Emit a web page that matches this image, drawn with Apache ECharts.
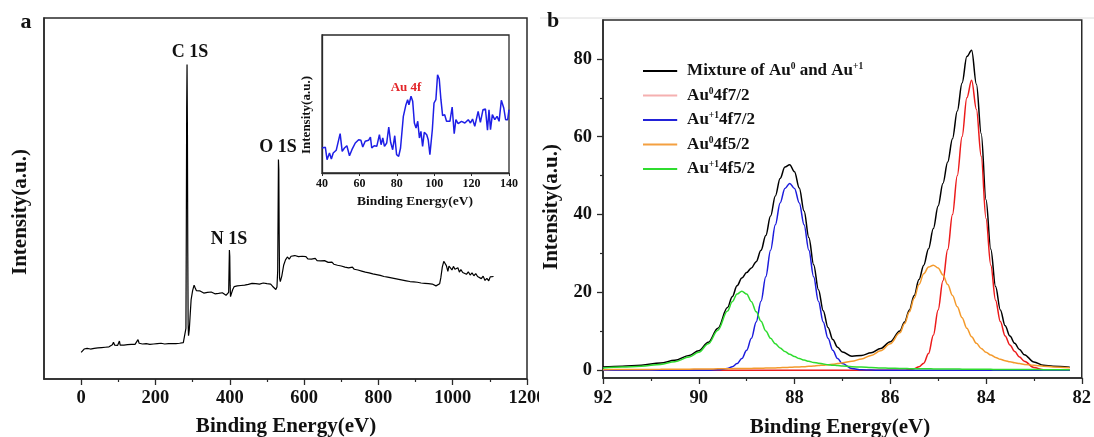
<!DOCTYPE html>
<html>
<head>
<meta charset="utf-8">
<script src="https://cdn.jsdelivr.net/npm/echarts@6/dist/echarts.min.js"></script>
<style>
  html, body { margin: 0; padding: 0; background: #ffffff; }
  #chart { width: 1094px; height: 437px; }
</style>
</head>
<body>
<div id="chart"></div>
<script>
// ---- (a) XPS survey spectrum: [binding energy (eV), intensity (a.u.)] ----
const surveySpectrum = [
  [0,7.4],[4,7.9],[8,8.3],[12,8.1],[16,8.5],[20,8.4],[25,8.3],[30,8.6],[35,8.5],[40,8.7],
  [45,8.6],[50,8.8],[55,8.7],[60,8.9],[65,8.8],[70,9.0],[75,8.9],[80,9.1],[84,9.5],[87,10.2],
  [90,9.4],[94,9.1],[98,9.3],[101,9.6],[103,10.5],[105,9.4],[110,9.2],[115,9.4],[120,9.3],[125,9.5],
  [130,9.4],[135,9.6],[140,9.5],[145,9.6],[150,9.8],[153,10.9],[156,9.9],[160,9.6],[165,9.7],[170,9.6],
  [175,9.8],[180,9.7],[185,9.6],[190,9.8],[195,9.7],[200,9.9],[205,9.8],[210,9.7],[215,9.9],[220,9.8],
  [225,9.7],[230,9.9],[235,9.8],[240,9.9],[245,9.8],[250,9.9],[255,9.8],[260,10.0],[265,9.9],[270,10.0],
  [275,10.1],[280,10.6],[282,14.0],[283,40.0],[284,75.0],[285,87.1],[286,70.0],[287,35.0],[288,15.0],[289,12.0],
  [291,13.6],[293,17.0],[296,22.0],[300,24.5],[304,26.0],[307,25.2],[310,24.5],[315,24.0],[320,24.4],[325,24.1],
  [330,23.8],[335,24.2],[340,24.0],[345,23.7],[350,24.1],[355,23.9],[360,23.6],[365,24.0],[370,23.7],[375,23.5],
  [380,23.9],[385,23.4],[390,23.2],[395,23.0],[397,24.0],[398,30.0],[399,35.7],[400,34.0],[401,26.0],[402,22.8],
  [404,23.5],[408,24.8],[412,25.6],[416,25.2],[420,25.8],[425,25.4],[430,25.9],[435,25.5],[440,26.0],[445,25.7],
  [450,26.2],[455,25.8],[460,26.5],[465,26.0],[470,26.4],[475,25.9],[480,26.3],[485,26.1],[490,26.6],[495,26.2],
  [500,26.4],[505,26.0],[510,26.3],[515,25.7],[520,25.2],[524,24.8],[527,25.5],[529,30.0],[530,45.0],[531,60.8],
  [532,58.0],[533,40.0],[534,28.0],[536,27.0],[540,28.5],[545,31.5],[550,33.0],[555,33.8],[560,33.2],[565,34.0],
  [570,33.6],[575,34.2],[580,33.7],[585,33.9],[590,33.4],[595,34.0],[600,33.6],[605,33.9],[610,33.3],[615,33.7],
  [620,33.2],[625,33.0],[630,33.4],[635,32.8],[640,33.1],[645,32.7],[650,32.3],[655,32.8],[660,33.2],[665,32.3],
  [670,32.0],[675,32.4],[680,31.8],[685,32.1],[690,31.5],[695,31.9],[700,31.3],[705,31.6],[710,31.0],[715,31.4],
  [720,30.8],[725,30.6],[730,31.0],[735,30.4],[740,30.7],[745,30.2],[750,30.5],[755,29.9],[760,30.2],[765,29.6],
  [770,29.9],[775,29.4],[780,29.7],[785,29.1],[790,29.4],[795,28.9],[800,29.2],[805,28.7],[810,29.0],[815,28.4],
  [820,28.7],[825,28.2],[830,28.5],[835,28.0],[840,28.3],[845,27.8],[850,28.1],[855,27.6],[860,27.9],[865,27.4],
  [870,27.7],[875,27.2],[880,27.5],[885,27.0],[890,27.3],[895,26.9],[900,27.2],[905,26.8],[910,27.0],[915,26.6],
  [920,26.9],[925,26.5],[930,26.8],[935,26.4],[940,26.7],[945,26.3],[950,26.1],[955,25.8],[960,26.0],[965,26.4],
  [968,28.0],[972,31.0],[976,32.6],[980,33.0],[983,31.4],[987,29.8],[990,31.3],[994,30.8],[998,30.2],[1002,31.2],
  [1006,30.4],[1010,29.9],[1014,30.8],[1018,29.6],[1022,30.3],[1027,29.5],[1032,29.9],[1037,29.0],[1042,29.7],[1047,28.8],
  [1052,29.4],[1057,28.6],[1062,29.2],[1067,28.4],[1072,28.9],[1077,27.8],[1082,28.5],[1087,27.3],[1092,27.9],[1097,27.2],
  [1101,28.3],[1105,27.8],[1110,28.4]
];

// ---- (a) inset: Au 4f region of the survey ----
const insetSpectrum = [
  [40,25.0],[41.8,25.7],[42.7,13.3],[44,20.0],[45,14.0],[46,20.0],[47.6,22.7],[48.5,21.7],[49.7,39.3],[50.8,21.7],
  [52,25.0],[53.3,27.3],[54.7,17.3],[56,23.3],[56.9,21.7],[57.8,30.0],[59.6,33.3],[60.8,32.7],[61.8,26.0],[63.1,31.7],
  [64.9,32.7],[65.9,36.0],[66.6,25.0],[67.9,27.3],[69.3,26.7],[70.7,38.3],[71.6,28.3],[72.5,35.0],[73.4,26.7],[74.6,30.0],
  [75.7,46.0],[76.7,30.7],[77.8,23.3],[78.9,37.3],[79.9,18.3],[81,16.7],[82,25.0],[83.5,56.7],[84.9,68.3],[85.8,73.3],
  [86.5,68.3],[87.6,76.7],[88.5,71.7],[89.4,50.0],[90.3,45.0],[91.2,51.7],[92.1,35.0],[92.9,41.7],[93.8,26.7],[94.7,40.7],
  [96,38.3],[96.8,33.3],[97.7,18.3],[99,43.3],[99.9,70.0],[100.9,73.3],[101.8,98.3],[102.7,94.0],[103.6,73.3],[104.5,57.3],
  [105.6,58.3],[106.6,51.7],[108.4,51.7],[109.6,66.0],[110.7,39.3],[111.6,53.3],[112.8,49.3],[114.6,51.7],[116.4,50.0],[118.2,53.3],
  [119.4,50.0],[120.5,54.0],[121.7,46.7],[123.5,61.7],[124.7,50.7],[126.1,63.3],[127.4,64.0],[128.5,42.7],[129.3,63.3],[130.1,43.3],
  [131.1,58.3],[132.4,53.3],[133.6,56.7],[134.7,51.7],[135.9,72.7],[137.2,65.0],[138.2,53.3],[139.3,53.3],[140,63.3]
];

// ---- (b) Au 4f high-resolution fit ----
const energyB = [
  92.0, 91.6, 91.2, 90.8, 90.5, 90.2, 90.0, 89.8, 89.6, 89.4,
  89.3, 89.2, 89.1, 89.0, 88.9, 88.8, 88.7, 88.6, 88.5, 88.4,
  88.3, 88.2, 88.1, 88.0, 87.9, 87.8, 87.7, 87.6, 87.5, 87.4,
  87.3, 87.2, 87.1, 87.0, 86.8, 86.6, 86.4, 86.2, 86.0, 85.8,
  85.7, 85.6, 85.5, 85.4, 85.3, 85.2, 85.1, 85.0, 84.9, 84.8,
  84.7, 84.6, 84.5, 84.4, 84.3, 84.2, 84.1, 84.0, 83.9, 83.8,
  83.7, 83.6, 83.5, 83.4, 83.3, 83.2, 83.0, 82.8, 82.6, 82.25
];
const mixture = [
  0.85, 1.05, 1.3, 1.85, 2.55, 3.8, 5.0, 7.2, 10.8, 16.1,
  18.9, 21.7, 23.7, 25.1, 26.3, 27.9, 30.8, 34.6, 39.6, 44.8,
  49.3, 52.2, 52.8, 51.0, 46.8, 40.9, 34.1, 27.1, 20.7, 15.3,
  11.0, 7.9, 5.9, 4.7, 3.6, 3.8, 4.5, 5.6, 7.3, 10.1,
  12.4, 15.5, 19.2, 23.3, 27.0, 31.2, 36.4, 42.2, 48.0, 53.5,
  59.5, 66.6, 73.8, 80.6, 82.2, 73.5, 60.8, 43.8, 31.1, 21.5,
  15.5, 11.4, 8.8, 6.9, 5.3, 4.0, 2.1, 1.25, 1.0, 0.77
];
const au0f72 = [
  0, 0, 0, 0, 0, 0, 0, 0, 0, 0,
  0, 0, 0, 0, 0, 0, 0, 0, 0, 0,
  0, 0, 0, 0, 0, 0, 0, 0, 0, 0,
  0, 0, 0, 0, 0, 0, 0, 0, 0, 0,
  0, 0.1, 0.4, 0.9, 1.8, 4.3, 9.0, 15.5, 23.0, 31.0,
  40.0, 50.0, 60.0, 70.0, 74.5, 67.0, 55.0, 39.0, 27.0, 18.0,
  12.5, 8.8, 6.5, 4.8, 3.4, 2.3, 0.7, 0.1, 0, 0
];
const au1f72 = [
  0, 0, 0, 0, 0, 0, 0, 0, 0.1, 0.45,
  0.9, 1.7, 3.0, 5.1, 8.2, 12.4, 17.7, 24.0, 30.8, 37.4,
  43.0, 46.7, 48.0, 46.7, 43.0, 37.4, 30.8, 24.0, 17.7, 12.4,
  8.2, 5.1, 3.0, 1.7, 0.45, 0.1, 0.03, 0, 0, 0,
  0, 0, 0, 0, 0, 0, 0, 0, 0, 0,
  0, 0, 0, 0, 0, 0, 0, 0, 0, 0,
  0, 0, 0, 0, 0, 0, 0, 0, 0, 0
];
const au0f52 = [
  0.15, 0.18, 0.2, 0.22, 0.25, 0.28, 0.3, 0.3, 0.35, 0.4,
  0.4, 0.42, 0.43, 0.45, 0.47, 0.5, 0.52, 0.55, 0.58, 0.6,
  0.65, 0.7, 0.75, 0.8, 0.85, 0.9, 1.0, 1.1, 1.2, 1.3,
  1.4, 1.55, 1.7, 1.9, 2.3, 2.9, 3.8, 5.0, 6.8, 9.6,
  12.0, 15.0, 18.5, 22.0, 24.8, 26.5, 27.0, 26.3, 24.5, 22.0,
  19.2, 16.3, 13.5, 10.8, 8.6, 6.9, 5.6, 4.6, 3.9, 3.3,
  2.8, 2.45, 2.15, 1.9, 1.7, 1.5, 1.25, 1.0, 0.85, 0.65
];
const au1f52 = [
  0.6, 0.8, 1.0, 1.5, 2.2, 3.4, 4.6, 6.8, 10.3, 15.2,
  17.6, 19.6, 20.3, 19.6, 17.6, 15.0, 12.6, 10.1, 8.2, 6.8,
  5.7, 4.8, 4.1, 3.5, 3.0, 2.6, 2.3, 2.0, 1.8, 1.6,
  1.4, 1.3, 1.2, 1.1, 0.9, 0.8, 0.7, 0.6, 0.5, 0.45,
  0.42, 0.4, 0.4, 0.38, 0.36, 0.35, 0.34, 0.33, 0.32, 0.31,
  0.3, 0.29, 0.28, 0.27, 0.26, 0.25, 0.24, 0.23, 0.22, 0.21,
  0.2, 0.2, 0.19, 0.18, 0.18, 0.17, 0.16, 0.15, 0.14, 0.12
];

// Tick values
const surveyMajorTicks = [0, 200, 400, 600, 800, 1000, 1200];
const surveyMinorTicks = [100, 300, 500, 700, 900, 1100];
const fitMajorTicks = [0, 20, 40, 60, 80];
const fitMinorTicks = [10, 30, 50, 70];

// Series definitions for panel (b)
const fitSeries = [
  { name: 'Mixture of Au0 and Au+1', values: mixture, color: '#000000', legendColor: '#000000',
    label: '{n|Mixture of Au}{s|0}{n| and Au}{s|+1}' },
  { name: 'Au0 4f7/2', values: au0f72, color: '#ec1b1b', legendColor: '#f5b0b0',
    label: '{n|Au}{s|0}{n|4f7/2}' },
  { name: 'Au+1 4f7/2', values: au1f72, color: '#1c1cdc', legendColor: '#2222d8',
    label: '{n|Au}{s|+1}{n|4f7/2}' },
  { name: 'Au0 4f5/2', values: au0f52, color: '#f49a2c', legendColor: '#f4a040',
    label: '{n|Au}{s|0}{n|4f5/2}' },
  { name: 'Au+1 4f5/2', values: au1f52, color: '#2fdc2f', legendColor: '#2fdc2f',
    label: '{n|Au}{s|+1}{n|4f5/2}' }
];

const FONT = '"Liberation Serif", "Times New Roman", serif';
const INK = '#111111';
const FRAME = '#2a2a2a';

const chart = echarts.init(document.getElementById('chart'), null, { renderer: 'canvas' });

const labelStyle = (size) => ({ fontFamily: FONT, fontWeight: 'bold', fontSize: size, color: INK });
const plainNumber = v => String(v);

function boldText(text, x, y, size, opts) {
  return Object.assign({
    type: 'text', x: x, y: y, silent: true, z: 50,
    style: { text: text, fontFamily: FONT, fontWeight: 'bold', fontSize: size,
             fill: INK, align: 'center', verticalAlign: 'middle' }
  }, opts || {});
}

const option = {
  backgroundColor: '#ffffff',
  animation: false,
  grid: [
    { left: 44, top: 18, width: 483, height: 361, show: true, borderColor: FRAME, borderWidth: 1.5 },
    { left: 322, top: 35, width: 187, height: 138, show: true, borderColor: FRAME, borderWidth: 1.3 },
    { left: 603, top: 20, width: 479, height: 358, show: true, borderColor: FRAME, borderWidth: 1.5 }
  ],
  xAxis: [
    { // survey energy axis
      gridIndex: 0, type: 'value', min: -100, max: 1200, position: 'bottom',
      axisLine: { show: true, onZero: false, lineStyle: { color: FRAME, width: 1.5 } },
      axisTick: { show: true, inside: false, length: 6, customValues: surveyMajorTicks, lineStyle: { color: FRAME, width: 1.3 } },
      axisLabel: Object.assign({ show: true, margin: 10, customValues: surveyMajorTicks, formatter: plainNumber }, labelStyle(18.5)),
      splitLine: { show: false }
    },
    { // survey minor ticks
      gridIndex: 0, type: 'value', min: -100, max: 1200, position: 'bottom', offset: 0,
      axisLine: { show: false },
      axisTick: { show: true, inside: false, length: 3, customValues: surveyMinorTicks, lineStyle: { color: FRAME, width: 1.2 } },
      axisLabel: { show: false }, splitLine: { show: false }
    },
    { // inset energy axis
      gridIndex: 1, type: 'value', min: 40, max: 140, interval: 20, position: 'bottom',
      axisLine: { show: true, onZero: false, lineStyle: { color: FRAME, width: 1.3 } },
      axisTick: { show: true, inside: false, length: 3, lineStyle: { color: FRAME, width: 1 } },
      axisLabel: Object.assign({ show: true, margin: 5, formatter: plainNumber }, labelStyle(12)),
      splitLine: { show: false }
    },
    { // high-resolution energy axis (decreasing to the right)
      gridIndex: 2, type: 'value', min: 82, max: 92, interval: 2, inverse: true, position: 'bottom',
      axisLine: { show: true, onZero: false, lineStyle: { color: FRAME, width: 1.5 } },
      axisTick: { show: true, inside: false, length: 6, lineStyle: { color: FRAME, width: 1.3 } },
      minorTick: { show: true, splitNumber: 2, length: 3, lineStyle: { color: FRAME, width: 1.2 } },
      axisLabel: Object.assign({ show: true, margin: 11, formatter: plainNumber }, labelStyle(18.5)),
      splitLine: { show: false }, minorSplitLine: { show: false }
    }
  ],
  yAxis: [
    { gridIndex: 0, type: 'value', min: 0, max: 100, position: 'left',
      axisLine: { show: true, onZero: false, lineStyle: { color: FRAME, width: 1.5 } },
      axisTick: { show: false }, axisLabel: { show: false }, splitLine: { show: false } },
    { gridIndex: 1, type: 'value', min: 0, max: 138, position: 'left',
      axisLine: { show: true, onZero: false, lineStyle: { color: FRAME, width: 1.3 } },
      axisTick: { show: false }, axisLabel: { show: false }, splitLine: { show: false } },
    { gridIndex: 2, type: 'value', min: -2, max: 90, position: 'left',
      axisLine: { show: true, onZero: false, lineStyle: { color: FRAME, width: 1.5 } },
      axisTick: { show: true, inside: false, length: 6, customValues: fitMajorTicks, lineStyle: { color: FRAME, width: 1.3 } },
      axisLabel: Object.assign({ show: true, margin: 11, customValues: fitMajorTicks, formatter: plainNumber }, labelStyle(18.5)),
      splitLine: { show: false } },
    { gridIndex: 2, type: 'value', min: -2, max: 90, position: 'left', offset: 0,
      axisLine: { show: false },
      axisTick: { show: true, inside: false, length: 3, customValues: fitMinorTicks, lineStyle: { color: FRAME, width: 1.2 } },
      axisLabel: { show: false }, splitLine: { show: false } }
  ],
  legend: {
    show: true, selectedMode: false, orient: 'vertical',
    left: 643, top: 62, itemWidth: 38, itemHeight: 1.8, itemGap: 7, padding: 0,
    icon: 'path://M0,0H38V2H0Z',
    data: fitSeries.map(s => ({ name: s.name, itemStyle: { color: s.legendColor, borderWidth: 0 } })),
    formatter: name => fitSeries.find(s => s.name === name).label,
    textStyle: {
      fontFamily: FONT, fontWeight: 'bold', fontSize: 17, color: INK, padding: [0, 0, 0, 3],
      rich: {
        n: { fontFamily: FONT, fontWeight: 'bold', fontSize: 17, color: INK, lineHeight: 18 },
        s: { fontFamily: FONT, fontWeight: 'bold', fontSize: 9.5, color: INK, lineHeight: 9, verticalAlign: 'top' }
      }
    }
  },
  series: [
    { type: 'line', name: 'survey', xAxisIndex: 0, yAxisIndex: 0, data: surveySpectrum,
      showSymbol: false, symbol: 'none', lineStyle: { color: '#000000', width: 1.2 }, z: 3 },
    { type: 'line', name: 'inset', xAxisIndex: 2, yAxisIndex: 1, data: insetSpectrum,
      showSymbol: false, symbol: 'none', lineStyle: { color: '#1e1ee6', width: 1.5 }, z: 3 }
  ].concat(fitSeries.map((s, k) => ({
    type: 'line', name: s.name, xAxisIndex: 3, yAxisIndex: 2,
    data: energyB.map((e, i) => [e, s.values[i]]),
    showSymbol: false, symbol: 'none', smooth: 0.35, smoothMonotone: 'x',
    lineStyle: { color: s.color, width: 1.5 }, itemStyle: { color: s.color }, z: 3 + k
  }))),
  graphic: [
    // the right-hand panel sits over the end of the left-hand tick labels
    { type: 'rect', silent: true, z: 40, shape: { x: 539, y: 384, width: 40, height: 30 },
      style: { fill: '#ffffff' } },
    { type: 'line', silent: true, z: 41, shape: { x1: 540, y1: 18, x2: 1094, y2: 18 },
      style: { stroke: '#dcdcdc', lineWidth: 1 } },
    boldText('a', 26, 22, 22),
    boldText('b', 553, 21, 22),
    boldText('C 1S', 190, 52, 18),
    boldText('N 1S', 229, 239, 18),
    boldText('O 1S', 278, 147, 18),
    boldText('Au 4f', 406, 88, 13, { style: { text: 'Au 4f', fontFamily: FONT, fontWeight: 'bold', fontSize: 13,
      fill: '#e3262a', align: 'center', verticalAlign: 'middle' } }),
    boldText('Intensity(a.u.)', 21, 212, 21, { rotation: Math.PI / 2 }),
    boldText('Binding Energy(eV)', 286, 427, 21),
    boldText('Intensity(a.u.)', 307, 115, 13, { rotation: Math.PI / 2 }),
    boldText('Binding Energy(eV)', 415, 202, 13.5),
    boldText('Intensity(a.u.)', 552, 207, 21, { rotation: Math.PI / 2 }),
    boldText('Binding Energy(eV)', 840, 428, 21)
  ]
};

chart.setOption(option);
</script>
</body>
</html>
